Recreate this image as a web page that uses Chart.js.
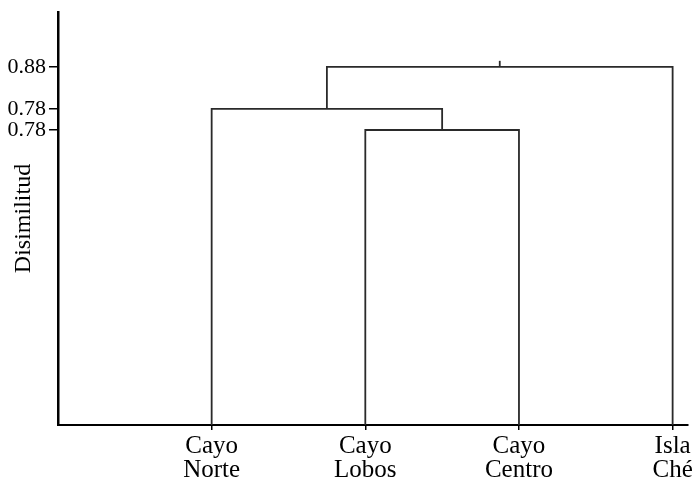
<!DOCTYPE html>
<html>
<head>
<meta charset="utf-8">
<script src="https://cdn.jsdelivr.net/npm/chart.js@4/dist/chart.umd.min.js"></script>
<style>
  html, body { margin: 0; padding: 0; background: #fff; }
  #wrap { width: 698px; height: 481px; }
</style>
</head>
<body>
<div id="wrap"><canvas id="dendro"></canvas></div>
<script>
/* ================= DATA ================= */

const leaves = ["Cayo Norte", "Cayo Lobos", "Cayo Centro", "Isla Ché"];

// merge k joins node mergeA[k] with mergeB[k] (leaves are 0..3, merge k is node 4+k)
const mergeA = [1, 0, 5];
const mergeB = [2, 4, 3];
const mergeHeights = [0.725, 0.777, 0.88];

const tickValues = [0.725, 0.777, 0.88];
const tickLabels = ["0.78", "0.78", "0.88"];

/* ================= BUILD LINKS ================= */

const nodeX = leaves.map((_, i) => i + 1);
const nodeH = leaves.map(() => 0);

const links = [];
mergeHeights.forEach((h, k) => {
  const a = mergeA[k], b = mergeB[k];
  const xa = nodeX[a], xb = nodeX[b];
  links.push([
    { x: xa, y: nodeH[a] },
    { x: xa, y: h },
    { x: xb, y: h },
    { x: xb, y: nodeH[b] }
  ]);
  nodeX.push((xa + xb) / 2);
  nodeH.push(h);
});

// little stub above the root
const root = nodeX.length - 1;
links.push([
  { x: nodeX[root], y: nodeH[root] },
  { x: nodeX[root], y: nodeH[root] + 0.015 }
]);

/* ================= CHART ================= */

const serif = "'Liberation Serif', 'Times New Roman', serif";

new Chart(document.getElementById("dendro").getContext("2d"), {
  type: "scatter",
  data: {
    datasets: links.map(pts => ({
      data: pts,
      showLine: true,
      borderColor: "#2a2a2a",
      borderWidth: 1.8,
      pointRadius: 0,
      fill: false,
      clip: false
    }))
  },
  options: {
    responsive: true,
    maintainAspectRatio: false,
    animation: false,
    layout: { padding: { top: 12, right: 10, left: 0, bottom: 0 } },
    plugins: { legend: { display: false }, tooltip: { enabled: false } },
    scales: {
      x: {
        type: "linear",
        min: 0,
        max: 4.1,
        afterFit: s => { s.height = 56; },
        afterBuildTicks: s => { s.ticks = leaves.map((_, i) => ({ value: i + 1 })); },
        grid: { drawOnChartArea: false, tickLength: 5, color: "#000", lineWidth: 1.5 },
        border: { color: "#000", width: 2 },
        ticks: {
          color: "#000",
          padding: 5,
          maxRotation: 0,
          autoSkip: false,
          font: { family: serif, size: 25, lineHeight: 0.95 },
          callback: (v, i) => leaves[i].split(" ")
        }
      },
      y: {
        type: "linear",
        min: 0,
        max: 1.015,
        afterFit: s => { s.width = 58; s.paddingTop = 0; s.paddingBottom = 0; },
        afterBuildTicks: s => { s.ticks = tickValues.map(v => ({ value: v })); },
        grid: { drawOnChartArea: false, tickLength: 9, color: "#000", lineWidth: 1.5 },
        border: { color: "#000", width: 2.5 },
        ticks: {
          color: "#000",
          padding: 3,
          autoSkip: false,
          font: { family: serif, size: 22 },
          callback: (v, i) => tickLabels[i]
        },
        title: {
          display: true,
          text: "Disimilitud",
          color: "#000",
          padding: { top: 9, bottom: 0 },
          font: { family: serif, size: 24 }
        }
      }
    }
  }
});
</script>
</body>
</html>
